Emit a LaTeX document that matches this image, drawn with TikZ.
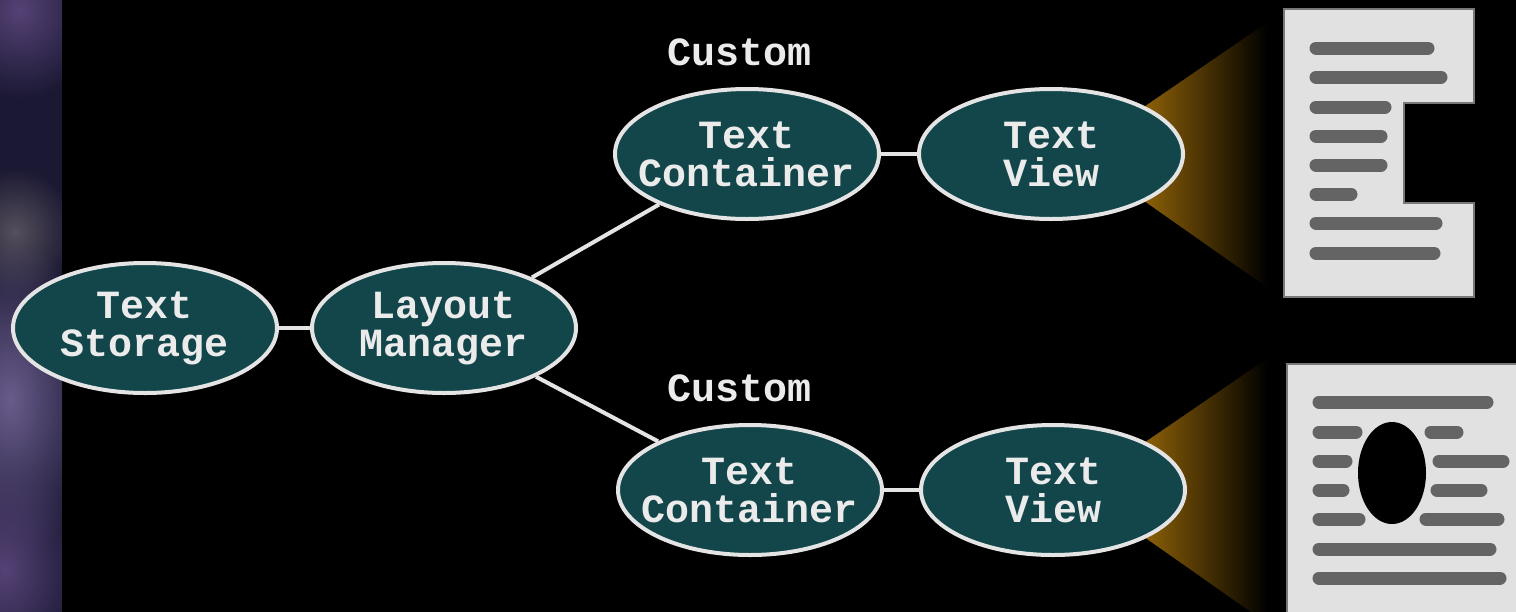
\documentclass[tikz,border=0pt]{standalone}
\usepackage{fontspec}
\newfontfamily\monof{Liberation Mono}
\usetikzlibrary{shapes.geometric,fadings}
\definecolor{nodefill}{RGB}{18,70,74}
\definecolor{edgecol}{RGB}{228,228,228}
\definecolor{txtcol}{RGB}{235,235,235}
\definecolor{pagecol}{RGB}{225,225,225}
\definecolor{pageedge}{RGB}{120,120,120}
\definecolor{inkline}{RGB}{100,100,100}
\definecolor{beamgold}{RGB}{190,130,10}
\definecolor{stripbg}{RGB}{26,24,50}
\definecolor{blobA}{RGB}{85,66,118}
\definecolor{blobB}{RGB}{85,80,92}
\definecolor{blobC}{RGB}{105,92,140}
\tikzfading[name=softblob, inner color=transparent!0, outer color=transparent!100]
\tikzset{
  obj/.style={ellipse, draw=edgecol, line width=2pt, fill=nodefill,
    minimum width=132pt, minimum height=65pt, inner xsep=-20pt, inner ysep=-8pt,
    align=center, text=txtcol, font=\monof\bfseries\fontsize{20}{19}\selectfont},
  lbl/.style={text=txtcol, font=\monof\bfseries\fontsize{20}{19}\selectfont, inner sep=0pt},
  link/.style={draw=edgecol, line width=2pt},
  beam/.style={left color=beamgold, right color=black, draw=none},
  txtline/.style={draw=inkline, line width=6.5pt, line cap=round},
  page/.style={fill=pagecol, draw=pageedge, line width=1pt},
  blob/.style={fill=#1, path fading=softblob}
}
\begin{document}
\begin{tikzpicture}[x=0.5pt,y=-0.5pt]
\useasboundingbox (0,0) rectangle (1516,611);
\fill[black] (-20,-20) rectangle (1540,640);
% left textured strip
\fill[stripbg] (-20,-20) rectangle (62,640);
\begin{scope}
\clip (-20,-20) rectangle (62,640);
\fill[blob=blobA] (20,10) ellipse (80 and 90);
\fill[blob=blobB] (15,232) ellipse (60 and 65);
\fill[blob=blobC] (10,400) ellipse (90 and 160);
\fill[blob=blobA] (5,570) ellipse (80 and 110);
\end{scope}
% beams
\fill[beam] (1100,137) -- (1268,22) -- (1268,288) -- (1100,170) -- cycle;
\fill[beam] (1100,473) -- (1268,358) -- (1268,624) -- (1100,506) -- cycle;
% pages
\draw[page] (1284,9) -- (1474,9) -- (1474,103) -- (1404,103) -- (1404,203) -- (1474,203) -- (1474,297) -- (1284,297) -- cycle;
\foreach \xa/\xb/\yy in {1310/1434/48,1310/1447/77,1310/1391/107,1310/1387/136,1310/1387/165,1310/1357/194,1310/1442/223,1310/1440/253}
  \draw[txtline] (\xa+6,\yy) -- (\xb-6,\yy);
\draw[page] (1287,364) rectangle (1540,640);
\foreach \xa/\xb/\yy in {1313/1493/402,1313/1362/432,1425/1463/432,1313/1352/461,1433/1509/461,1313/1349/490,1431/1487/490,1313/1365/519,1420/1504/519,1313/1496/549,1313/1506/578}
  \draw[txtline] (\xa+6,\yy) -- (\xb-6,\yy);
\fill[black] (1392,473) ellipse (34 and 51);
% nodes
\node[obj] (ts) at (145,328) {Text\\Storage};
\node[obj] (lm) at (444,328) {Layout\\Manager};
\node[obj] (tc1) at (747,154) {Text\\Container};
\node[obj] (tv1) at (1051,154) {Text\\View};
\node[obj] (tc2) at (750,490) {Text\\Container};
\node[obj] (tv2) at (1053,490) {Text\\View};
\node[lbl] (cu1) at (740,52) {Custom};
\node[lbl] (cu2) at (740,388) {Custom};
% connectors
\draw[link] (ts) -- (lm);
\draw[link] (lm) -- (tc1);
\draw[link] (lm) -- (tc2);
\draw[link] (tc1) -- (tv1);
\draw[link] (tc2) -- (tv2);
\end{tikzpicture}
\end{document}
